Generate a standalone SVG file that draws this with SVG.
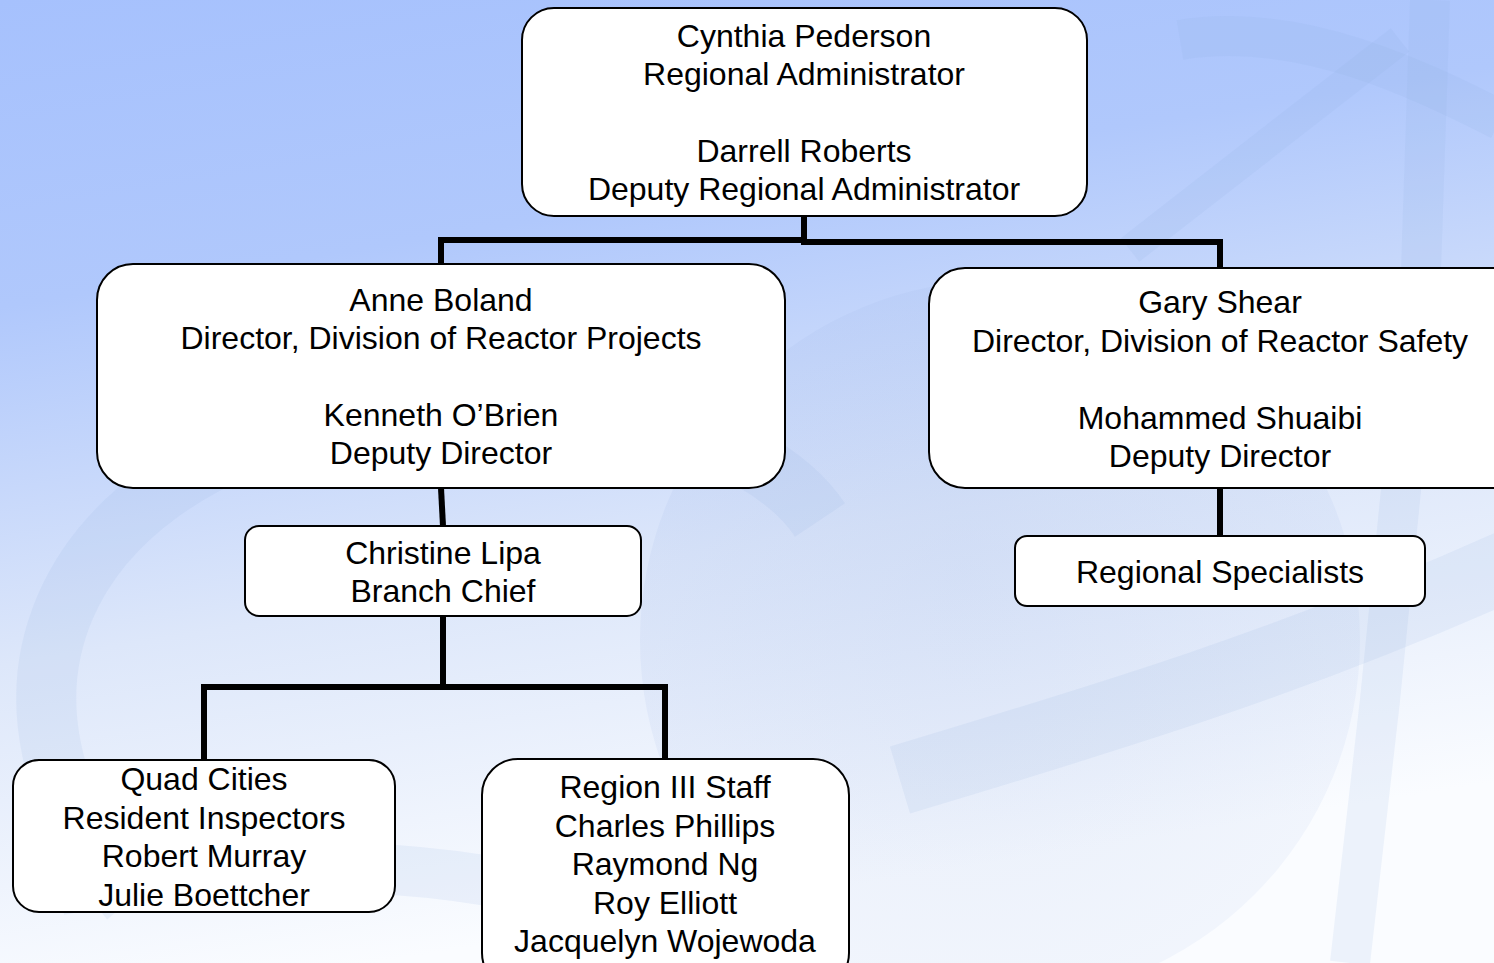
<svg xmlns="http://www.w3.org/2000/svg" width="1494" height="963" viewBox="0 0 1494 963">
<defs>
<linearGradient id="bg" x1="0" y1="0" x2="0.25" y2="1">
<stop offset="0" stop-color="#a6c1fd"/>
<stop offset="0.3" stop-color="#b0c8fc"/>
<stop offset="0.65" stop-color="#dde7fa"/>
<stop offset="1" stop-color="#fafcff"/>
</linearGradient>
<radialGradient id="sph" cx="0.45" cy="0.4" r="0.6">
<stop offset="0" stop-color="#9fb6e6" stop-opacity="0.22"/>
<stop offset="1" stop-color="#9fb6e6" stop-opacity="0.1"/>
</radialGradient>
<style>
.box{fill:#ffffff;stroke:#000000;stroke-width:2}
.t{font-family:"Liberation Sans",Arial,sans-serif;font-size:32px;fill:#000000;text-anchor:middle}
.c{fill:none;stroke:#000000;stroke-width:6;stroke-linejoin:miter;stroke-linecap:butt}
.band{fill:none;stroke:#8eaadf;stroke-opacity:0.12}
</style>
</defs>
<rect width="1494" height="963" fill="url(#bg)"/>
<g id="background-logo">
<circle cx="1000" cy="640" r="360" fill="url(#sph)"/>
<path class="band" stroke-width="60" d="M130,900 C-40,700 60,480 330,420 C560,370 760,430 820,520"/>
<path class="band" stroke-width="40" d="M1180,40 C1300,20 1420,80 1500,120"/>
<path class="band" stroke-width="30" d="M1130,250 L1400,40"/>
<path class="band" stroke-width="40" d="M1430,0 L1420,300 L1380,700 L1350,963"/>
<path class="band" stroke-width="70" d="M900,780 C1100,720 1300,660 1520,560"/>
<path class="band" stroke-width="50" d="M60,890 C300,850 500,860 700,940"/>
</g>
<g id="connectors">
<path class="c" d="M804,216 V240 H441 V264"/>
<path class="c" d="M804,240 V242 H1220 V268"/>
<path class="c" d="M441,488 L443,526"/>
<path class="c" d="M443,616 V687 H204 V760"/>
<path class="c" d="M443,687 H665 V759"/>
<path class="c" d="M1220,488 V536"/>
</g>
<g id="node-regional-administrator">
<rect class="box" x="522" y="8" width="565" height="208" rx="32"/>
<text class="t" x="804" y="47">Cynthia Pederson</text>
<text class="t" x="804" y="85">Regional Administrator</text>
<text class="t" x="804" y="162">Darrell Roberts</text>
<text class="t" x="804" y="200">Deputy Regional Administrator</text>
</g>
<g id="node-reactor-projects">
<rect class="box" x="97" y="264" width="688" height="224" rx="36"/>
<text class="t" x="441" y="311">Anne Boland</text>
<text class="t" x="441" y="349">Director, Division of Reactor Projects</text>
<text class="t" x="441" y="426">Kenneth O’Brien</text>
<text class="t" x="441" y="464">Deputy Director</text>
</g>
<g id="node-reactor-safety">
<rect class="box" x="929" y="268" width="600" height="220" rx="36"/>
<text class="t" x="1220" y="313">Gary Shear</text>
<text class="t" x="1220" y="352">Director, Division of Reactor Safety</text>
<text class="t" x="1220" y="429">Mohammed Shuaibi</text>
<text class="t" x="1220" y="467">Deputy Director</text>
</g>
<g id="node-branch-chief">
<rect class="box" x="245" y="526" width="396" height="90" rx="14"/>
<text class="t" x="443" y="564">Christine Lipa</text>
<text class="t" x="443" y="602">Branch Chief</text>
</g>
<g id="node-regional-specialists">
<rect class="box" x="1015" y="536" width="410" height="70" rx="12"/>
<text class="t" x="1220" y="583">Regional Specialists</text>
</g>
<g id="node-quad-cities">
<rect class="box" x="13" y="760" width="382" height="152" rx="26"/>
<text class="t" x="204" y="790">Quad Cities</text>
<text class="t" x="204" y="829">Resident Inspectors</text>
<text class="t" x="204" y="867">Robert Murray</text>
<text class="t" x="204" y="906">Julie Boettcher</text>
</g>
<g id="node-region-iii-staff">
<rect class="box" x="482" y="759" width="367" height="230" rx="36"/>
<text class="t" x="665" y="798">Region III Staff</text>
<text class="t" x="665" y="837">Charles Phillips</text>
<text class="t" x="665" y="875">Raymond Ng</text>
<text class="t" x="665" y="914">Roy Elliott</text>
<text class="t" x="665" y="952">Jacquelyn Wojewoda</text>
</g>
</svg>
